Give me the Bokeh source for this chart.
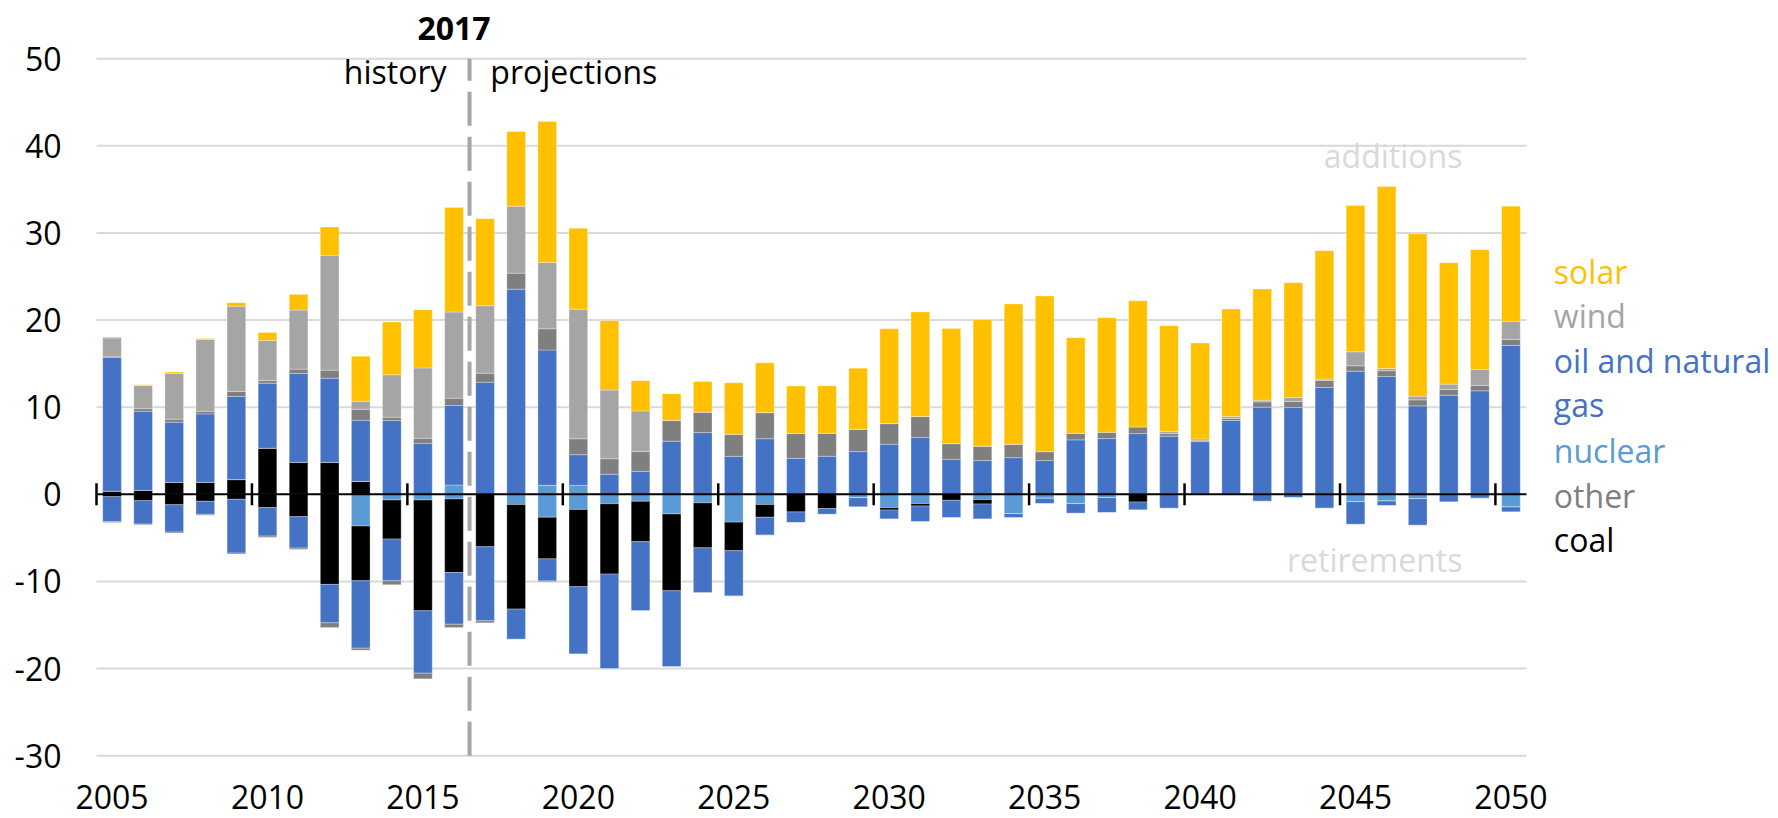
from bokeh.plotting import figure
from bokeh.models import ColumnDataSource, Range1d, LabelSet
from bokeh.core.properties import value
from bokeh.embed import file_html
from bokeh.resources import INLINE

# ---------------- data (GW) ----------------
years = list(range(2005, 2051))

coal_add = [0.35, 0.46, 1.38, 1.38, 1.69, 5.29, 3.68, 3.68, 1.49] + [0] * 37
nuclear_add = [0] * 11 + [1.07, 0, 0, 1.03, 1.03] + [0] * 30
gas_add = [15.35, 9.08, 6.9, 7.85, 9.54, 7.47, 10.19, 9.65, 7.01, 8.47,
           5.86, 9.12, 12.87, 23.55, 15.53, 3.52, 2.3, 2.63, 6.1, 7.08,
           4.36, 6.38, 4.13, 4.37, 4.9, 5.75, 6.51, 4.02, 3.87, 4.21,
           3.87, 6.25, 6.4, 6.97, 6.67, 6.05, 8.47, 10.0, 9.96, 12.26,
           14.14, 13.52, 10.15, 11.38, 11.88, 17.09]
other_add = [0.15, 0.3, 0.35, 0.3, 0.57, 0.3, 0.5, 0.92, 1.26, 0.38,
             0.57, 0.84, 1.03, 1.83, 2.44, 1.83, 1.78, 2.29, 2.39, 2.35,
             2.54, 3.0, 2.86, 2.64, 2.57, 2.37, 2.42, 1.8, 1.65, 1.54,
             1.03, 0.76, 0.73, 0.77, 0.3, 0.1, 0.23, 0.61, 0.69, 0.81,
             0.61, 0.66, 0.69, 0.65, 0.61, 0.69]
wind_add = [2.1, 2.64, 5.25, 8.24, 9.8, 4.6, 6.78, 13.18, 0.92, 4.87,
            8.08, 9.89, 7.74, 7.69, 7.6, 14.87, 7.88, 4.65, 0, 0,
            0, 0, 0, 0, 0, 0, 0, 0, 0, 0,
            0, 0, 0, 0, 0.23, 0.21, 0.23, 0.19, 0.46, 0.15,
            1.61, 0.26, 0.42, 0.61, 1.84, 2.07]
solar_add = [0.1, 0.1, 0.15, 0.12, 0.4, 0.92, 1.8, 3.26, 5.17, 6.05,
             6.67, 11.99, 10.0, 8.58, 16.18, 9.28, 7.97, 3.47, 3.05, 3.52,
             5.9, 5.72, 5.44, 5.44, 7.01, 10.88, 11.99, 13.22, 14.52, 16.09,
             17.86, 10.96, 13.14, 14.48, 12.15, 11.0, 12.33, 12.76, 13.18, 14.75,
             16.78, 20.89, 18.66, 13.95, 13.75, 13.22]

nuclear_ret = [0, 0, 0, 0, 0, 0, 0, 0, -3.64, -0.65,
               -0.65, -0.54, 0, -1.17, -2.63, -1.74, -1.08, -0.8, -2.25, -0.98,
               -3.19, -1.17, 0, 0, -0.4, -1.53, -1.07, 0, -0.61, -2.22,
               -0.46, -1.07, -0.38, 0, 0, 0, 0, 0, 0, 0,
               -0.84, -0.77, -0.5, 0, 0, -1.46]
coal_ret = [-0.27, -0.73, -1.19, -0.8, -0.57, -1.53, -2.57, -10.34, -6.28, -4.48,
            -12.72, -8.43, -6.02, -12.0, -4.78, -8.86, -8.07, -4.64, -8.82, -5.16,
            -3.28, -1.46, -2.02, -1.64, 0, -0.27, -0.27, -0.69, -0.5, 0,
            0, 0, 0, -0.88, 0, 0, 0, 0, 0, 0,
            0, 0, 0, 0, 0, 0]
gas_ret = [-2.87, -2.68, -3.14, -1.5, -6.17, -3.26, -3.6, -4.41, -7.74, -4.79,
           -7.16, -5.94, -8.5, -3.47, -2.53, -7.74, -10.88, -7.93, -8.72, -5.16,
           -5.21, -2.06, -1.22, -0.66, -1.05, -1.04, -1.8, -1.99, -1.73, -0.46,
           -0.61, -1.11, -1.72, -0.92, -1.61, 0, 0, -0.8, -0.38, -1.6,
           -2.61, -0.53, -3.06, -0.88, -0.46, -0.57]
other_ret = [-0.1, -0.08, -0.12, -0.1, -0.12, -0.15, -0.15, -0.54, -0.23, -0.46,
             -0.65, -0.38, -0.23, 0, -0.1] + [0] * 31

label_years = [2005, 2010, 2015, 2020, 2025, 2030, 2035, 2040, 2045, 2050]
y_ticks = [-30, -20, -10, 0, 10, 20, 30, 40, 50]
last_history_year = 2016

legend_names = ["solar", "wind", "oil and natural", "gas", "nuclear", "other", "coal"]

# ---------------- styles ----------------
C_COAL, C_NUC, C_GAS, C_OTHER, C_WIND, C_SOLAR = (
    "#000000", "#5B9BD5", "#4472C4", "#7F7F7F", "#A5A5A5", "#FFC000")
legend_colors = [C_SOLAR, C_WIND, C_GAS, C_GAS, C_NUC, C_OTHER, C_COAL]
legend_baselines = [24.15, 19.05, 13.95, 8.85, 3.65, -1.55, -6.65]
FONT = "Open Sans"
PX_X = 31.087    # pixels per category
PX_Y = 8.7125    # pixels per unit

x0, x1 = years[0] - 0.5, years[-1] + 0.5
y_lo, y_hi = y_ticks[0], y_ticks[-1]

src = ColumnDataSource(dict(
    year=years, coal_add=coal_add, nuclear_add=nuclear_add, gas_add=gas_add,
    other_add=other_add, wind_add=wind_add, solar_add=solar_add,
    nuclear_ret=nuclear_ret, coal_ret=coal_ret, gas_ret=gas_ret, other_ret=other_ret))

# the frame covers the whole canvas, so that no text is clipped
p = figure(width=1778, height=818, output_backend="svg", toolbar_location=None,
           x_range=Range1d(x0 - 96 / PX_X, x0 + 1682 / PX_X),
           y_range=Range1d(y_lo - 62.8 / PX_Y, y_hi + 58.2 / PX_Y),
           x_axis_location=None, y_axis_location=None,
           min_border_left=0, min_border_right=0, min_border_top=0, min_border_bottom=0)
p.outline_line_color = None
p.background_fill_color = "white"
p.border_fill_color = "white"
p.xgrid.visible = False
p.ygrid.visible = False

# horizontal gridlines over the category span
grid_y = [t for t in y_ticks if t != 0]
p.segment(x0=[x0] * len(grid_y), x1=[x1] * len(grid_y), y0=grid_y, y1=grid_y,
          line_color="#D9D9D9", line_width=2)

p.vbar_stack(["coal_add", "nuclear_add", "gas_add", "other_add", "wind_add", "solar_add"],
             x="year", width=0.6, source=src,
             color=[C_COAL, C_NUC, C_GAS, C_OTHER, C_WIND, C_SOLAR],
             line_color="white", line_width=0.6, line_alpha=0.5)
p.vbar_stack(["nuclear_ret", "coal_ret", "gas_ret", "other_ret"],
             x="year", width=0.6, source=src,
             color=[C_NUC, C_COAL, C_GAS, C_OTHER],
             line_color="white", line_width=0.6, line_alpha=0.5)

# zero line with category tick marks
p.segment(x0=[x0], x1=[x1], y0=[0], y1=[0], line_color="black", line_width=2)
tick_x = [y - 0.5 for y in label_years]
p.segment(x0=tick_x, x1=tick_x, y0=[-1.26] * len(tick_x), y1=[1.26] * len(tick_x),
          line_color="black", line_width=2.5)

# history / projections divider
p.segment(x0=[last_history_year + 0.5], x1=[last_history_year + 0.5],
          y0=[y_lo], y1=[y_hi], line_color="#A6A6A6", line_width=4, line_dash="34 11")


def texts(xs, ys, ts, color="#000000", align="left", baseline="alphabetic",
          style="normal", size="32px", x_offset=0):
    s = ColumnDataSource(dict(x=list(xs), y=list(ys), t=list(ts)))
    p.add_layout(LabelSet(x="x", y="y", text="t", source=s, x_offset=x_offset,
                          text_align=align, text_baseline=baseline,
                          text_font=value(FONT), text_font_size=value(size),
                          text_font_style=style, text_color=color))


# y tick labels
texts([x0] * len(y_ticks), y_ticks, [str(t) for t in y_ticks],
      align="right", baseline="middle", x_offset=-35)
# x category labels
texts(label_years, [-36.1] * len(label_years), [str(v) for v in label_years],
      align="center")

texts([2016.0], [52.2], ["2017"], align="center", style="bold")
texts([2015.76], [47.1], ["history"], align="right")
texts([2017.17], [47.1], ["projections"], align="left")
texts([2048.44], [37.4], ["additions"], color="#D9D9D9", align="right")
texts([2048.44], [-8.9], ["retirements"], color="#D9D9D9", align="right")

for name, col, yb in zip(legend_names, legend_colors, legend_baselines):
    texts([2051.38], [yb], [name], color=col, size="32px")

open("out.html", "w").write(file_html(p, INLINE))
